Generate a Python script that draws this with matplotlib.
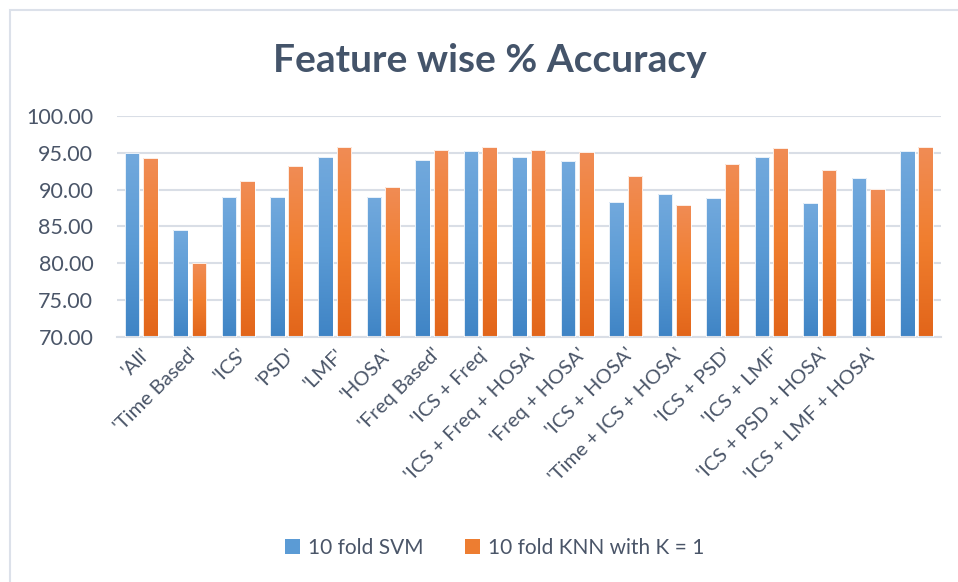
import numpy as np
import matplotlib
matplotlib.use("Agg")
import matplotlib.pyplot as plt
from matplotlib.colors import LinearSegmentedColormap
from matplotlib.patches import Rectangle, Patch

plt.rcParams['font.family'] = ['Lato', 'DejaVu Sans']

features = ["'All'", "'Time Based'", "'ICS'", "'PSD'", "'LMF'", "'HOSA'",
            "'Freq Based'", "'ICS + Freq'", "'ICS + Freq + HOSA'",
            "'Freq + HOSA'", "'ICS + HOSA'", "'Time + ICS + HOSA'",
            "'ICS + PSD'", "'ICS + LMF'", "'ICS + PSD + HOSA'",
            "'ICS + LMF + HOSA'", ""]
svm = [94.94, 84.50, 88.97, 88.97, 94.40, 88.97, 94.03, 95.21, 94.35,
       93.85, 88.25, 89.34, 88.84, 94.35, 88.12, 91.55, 95.21]
knn = [94.22, 80.00, 91.10, 93.18, 95.75, 90.38, 95.39, 95.75, 95.39,
       95.07, 91.78, 87.94, 93.49, 95.62, 92.63, 90.06, 95.75]
series_names = ["10 fold SVM", "10 fold KNN with K = 1"]

text_col = "#4A5568"
title_col = "#44546A"
grid_col = "#D9DEE6"
blue_cmap = LinearSegmentedColormap.from_list("b", ["#3F84C5", "#5B9BD5", "#72A9DD"])
orange_cmap = LinearSegmentedColormap.from_list("o", ["#E2651A", "#F07E2E", "#F18C55"])

fig = plt.figure(figsize=(9.58, 5.82), dpi=100)
ax = fig.add_axes([0.122, 0.421, 0.860, 0.380])

# chart frame (only top/left visible in the crop)
fig.patches.append(Rectangle((10 / 958, -0.1), 1.2, 1 - 10 / 582 + 0.1,
                             transform=fig.transFigure, fill=False,
                             edgecolor="#DCE1EA", linewidth=1.5, zorder=0))

x = np.arange(len(features))
w = 0.30
off = 0.19
ymin = 70
grad = np.linspace(0, 1, 256).reshape(-1, 1)

for vals, shift, cmap in [(svm, -off, blue_cmap), (knn, off, orange_cmap)]:
    bars = ax.bar(x + shift, np.array(vals) - ymin, w, bottom=ymin,
                  color="none", edgecolor="white", linewidth=0.6, zorder=3)
    for b in bars:
        x0, y0 = b.get_x(), b.get_y()
        im = ax.imshow(grad, cmap=cmap, origin="lower", aspect="auto",
                       extent=(x0, x0 + b.get_width(), y0, y0 + b.get_height()),
                       zorder=2)
        im.set_clip_path(b)

ax.set_xlim(-0.5, len(features) - 0.5)
ax.set_ylim(70, 100)
ax.set_yticks(np.arange(70, 101, 5))
ax.set_yticklabels([f"{v:.2f}" for v in np.arange(70, 101, 5)])
ax.set_xticks(x)
ax.set_xticklabels(features, rotation=45, ha="right", rotation_mode="anchor")
ax.tick_params(axis="both", length=0, colors=text_col)
ax.tick_params(axis="y", labelsize=15.5, pad=17)
ax.tick_params(axis="x", labelsize=14.5, pad=6)
ax.grid(axis="y", color=grid_col, linewidth=1.5, zorder=0)
ax.set_axisbelow(True)
for s in ["top", "right", "left"]:
    ax.spines[s].set_visible(False)
ax.spines["bottom"].set_color(grid_col)
ax.spines["bottom"].set_linewidth(1.5)

fig.text(490 / 958, 1 - 60 / 582, "Feature wise % Accuracy", ha="center",
         va="center", fontsize=28, fontweight="bold", color=title_col)

handles = [Patch(facecolor="#5B9BD5", label=series_names[0]),
           Patch(facecolor="#ED7D31", label=series_names[1])]
fig.legend(handles=handles, loc="center", bbox_to_anchor=(495 / 958, 1 - 548 / 582),
           ncol=2, frameon=False, fontsize=15, labelcolor=text_col,
           handlelength=0.7, handleheight=0.7, handletextpad=0.4, columnspacing=2.0)

fig.savefig("out.png", dpi=100)
